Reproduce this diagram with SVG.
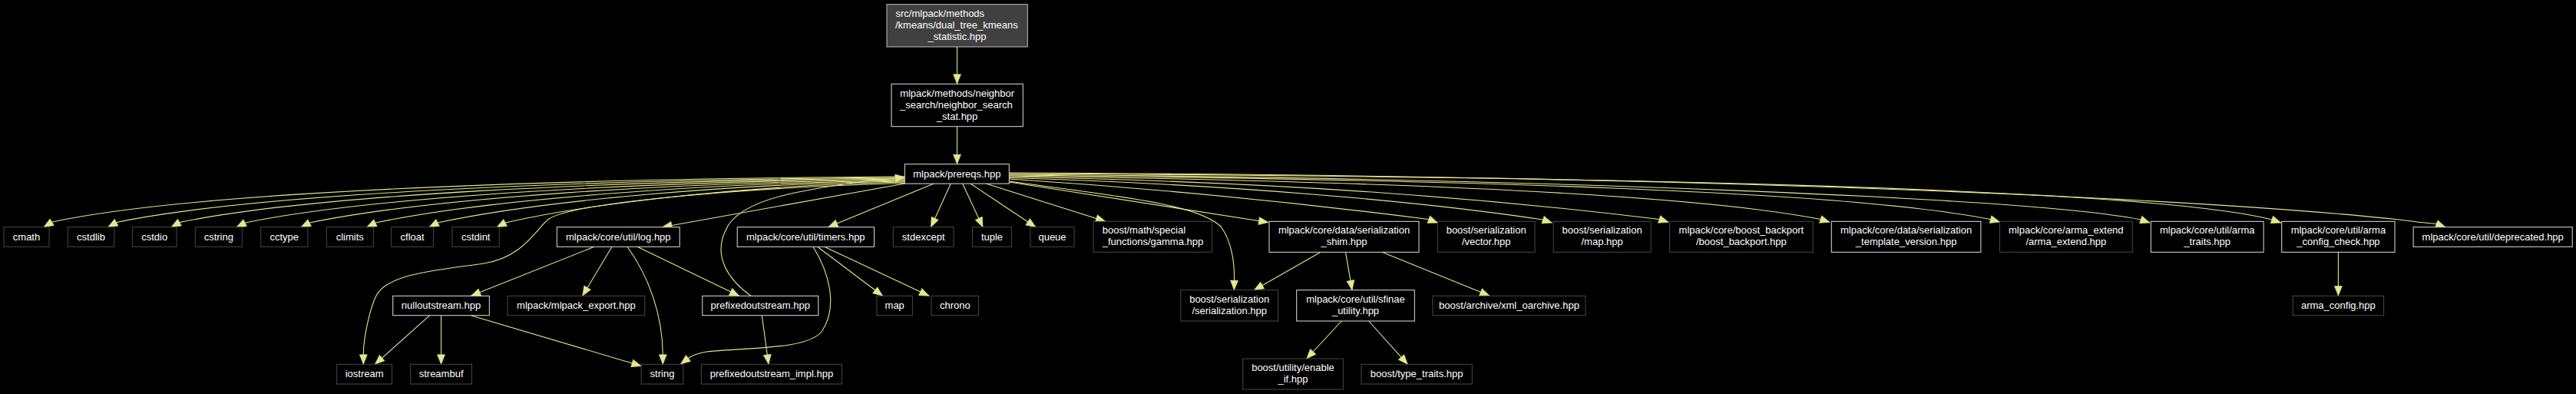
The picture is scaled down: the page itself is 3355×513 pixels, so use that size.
<svg xmlns="http://www.w3.org/2000/svg" width="3355" height="513" viewBox="0 0 3355 513">
<defs>
<style>
text{font-family:"Liberation Sans",Arial,sans-serif;font-size:13px;fill:#ffffff;text-anchor:middle}
.s{text-anchor:start}
.leaf rect{fill:#000000;stroke:#484848;stroke-width:1}
.lnk rect{fill:#000000;stroke:#e0e0e0;stroke-width:1}
.root rect{fill:#404040;stroke:#bfbfbf;stroke-width:1}
#edges path{fill:none;stroke:#e6e68c;stroke-width:1.1;marker-end:url(#ah)}
</style>
<marker id="ah" markerUnits="userSpaceOnUse" markerWidth="13" markerHeight="11" refX="12.5" refY="5" orient="auto" overflow="visible">
<path d="M0,0 L12.5,5 L0,10 Z" fill="#e6e68c" stroke="#e6e68c" stroke-width="0.6"/>
</marker>
</defs>
<rect x="0" y="0" width="3355" height="513" fill="#000000"/>

<g id="edges">
<path d="M1246.5,61 L1246.5,109.3"/>
<path d="M1246.5,164.7 L1246.5,213.7"/>
<path d="M1178,230 C701,233 250,250 68,289 L57,295.7"/>
<path d="M1178,231 C750,234 331,252 152,289.5 L140.6,295.7"/>
<path d="M1178,232 C796,235 408,253.6 234,289.5 L223,295.7"/>
<path d="M1178,233 C841,236 486,255.7 319.5,290 L308,295.7"/>
<path d="M1178,234 C884,237 562,257.3 403.5,290 L392,295.7"/>
<path d="M1178,235 C925,238 637,259 489.5,290 L477.7,295.7"/>
<path d="M1178,236 C962,239 707,260.4 570,290 L559,295.7"/>
<path d="M1178,237 C1000,240 780,262 658,290 L647,295.7"/>
<path d="M1178,238.5 C950,245 745,265 715,285 C700,295 683,335 630,343 C580,350.5 505,355 490,385 C482,401 473,440 473.3,463 L473.3,474.3"/>
<path d="M1178.5,239 L862.5,295.7"/>
<path d="M978,385.3 C950,365 928,335 945,300 C955,275 990,260 1040,250 C1090,240 1130,235 1166.5,232 L1178.5,230.5"/>
<path d="M1216.4,239 L1078.6,295.7"/>
<path d="M1238.3,239 L1212.5,295.7"/>
<path d="M1253.6,239 L1280,295.7"/>
<path d="M1263.8,239 L1349,295.7"/>
<path d="M1284,239 L1439.8,288.3"/>
<path d="M1314.3,237 L1652,289.5"/>
<path d="M1314.3,236 C1450,255 1560,265 1590,295 C1605,315 1608,345 1607.5,366 L1607.3,377.7"/>
<path d="M1314.3,233 C1500,245 1700,265 1860,285.5 L1872.5,290"/>
<path d="M1314.3,231.5 C1600,240 1850,262 2009,286 L2021.4,290"/>
<path d="M1314.3,230 C1700,238 1950,260 2161,285.5 L2173,289.3"/>
<path d="M1314.3,229 C1800,236 2200,252 2371,285.5 L2383,289.3"/>
<path d="M1314.3,228 C1900,234 2400,248 2592,285.5 L2604.5,289"/>
<path d="M1314.3,227 C2000,232 2650,258 2788,286 L2800,290"/>
<path d="M1314.3,226 C2100,230 2800,245 2959,286 L2970.7,290"/>
<path d="M1314.3,225 C2300,229 2900,262 3125,286 C3145,289 3160,290 3173.5,291.5 L3185,295.7"/>
<path d="M774,321.3 L613.3,385.3"/>
<path d="M797,321.3 L758.7,385.3"/>
<path d="M817,321.3 C845,360 863,410 863.3,462 L863.3,474.3"/>
<path d="M830,321.3 L962.8,385.3"/>
<path d="M1064.7,321.3 L1149.6,385.3"/>
<path d="M1073.7,321.3 L1210,385.3"/>
<path d="M1059,321.3 C1080,355 1092,400 1070,432 C1050,455 980,452 920,458 C908,460 903,462 897,466 L886.5,474"/>
<path d="M559.7,410.7 L488.3,474.3"/>
<path d="M574.5,410.7 L574.5,474.3"/>
<path d="M613.3,410.7 L835.2,476.5"/>
<path d="M992.3,410.7 L1001,474.3"/>
<path d="M1720,328.3 L1633.3,377.7"/>
<path d="M1752.5,328.3 L1761,377.7"/>
<path d="M1800,328.3 L1940,385"/>
<path d="M1747.3,418 L1701.7,467"/>
<path d="M1782.7,418 L1833.3,474.3"/>
<path d="M3045.4,328.3 L3045.4,385"/>
</g>

<g id="n_root" class="root"><rect x="1155" y="5.7" width="183.3" height="55.3"/>
<text class="s" x="1166.5" y="21.7">src/mlpack/methods</text><text class="s" x="1166" y="36.7">/kmeans/dual_tree_kmeans</text><text x="1246.5" y="51.5">_statistic.hpp</text></g>
<g id="n_nss" class="lnk"><rect x="1161" y="109.3" width="171.3" height="55.4"/>
<text x="1246.6" y="125.5">mlpack/methods/neighbor</text><text class="s" x="1172" y="140.5">_search/neighbor_search</text><text x="1246.6" y="155.5">_stat.hpp</text></g>
<g id="n_prereqs" class="lnk"><rect x="1178.3" y="213.7" width="136" height="25.4"/><text x="1246.3" y="231">mlpack/prereqs.hpp</text></g>

<g id="n_cmath" class="leaf"><rect x="5" y="295.7" width="59" height="25.6"/><text x="34.5" y="312.7">cmath</text></g>
<g id="n_cstdlib" class="leaf"><rect x="88.3" y="295.7" width="60.4" height="25.6"/><text x="118.5" y="312.7">cstdlib</text></g>
<g id="n_cstdio" class="leaf"><rect x="172.3" y="295.7" width="57.7" height="25.6"/><text x="201.2" y="312.7">cstdio</text></g>
<g id="n_cstring" class="leaf"><rect x="254.3" y="295.7" width="61" height="25.6"/><text x="284.8" y="312.7">cstring</text></g>
<g id="n_cctype" class="leaf"><rect x="339.7" y="295.7" width="61.2" height="25.6"/><text x="370.3" y="312.7">cctype</text></g>
<g id="n_climits" class="leaf"><rect x="425.3" y="295.7" width="61" height="25.6"/><text x="455.8" y="312.7">climits</text></g>
<g id="n_cfloat" class="leaf"><rect x="509.7" y="295.7" width="54.8" height="25.6"/><text x="537.1" y="312.7">cfloat</text></g>
<g id="n_cstdint" class="leaf"><rect x="589" y="295.7" width="61.3" height="25.6"/><text x="619.7" y="312.7">cstdint</text></g>
<g id="n_log" class="lnk"><rect x="725.3" y="295.7" width="159.9" height="25.6"/><text x="805.3" y="312.7">mlpack/core/util/log.hpp</text></g>
<g id="n_timers" class="lnk"><rect x="960.2" y="295.7" width="178.3" height="25.6"/><text x="1049.3" y="312.7">mlpack/core/util/timers.hpp</text></g>
<g id="n_stdexcept" class="leaf"><rect x="1163.3" y="295.7" width="78.7" height="25.6"/><text x="1202.7" y="312.7">stdexcept</text></g>
<g id="n_tuple" class="leaf"><rect x="1266.5" y="295.7" width="50.9" height="25.6"/><text x="1292" y="312.7">tuple</text></g>
<g id="n_queue" class="leaf"><rect x="1342" y="295.7" width="57.1" height="25.6"/><text x="1370.5" y="312.7">queue</text></g>
<g id="n_gamma" class="leaf"><rect x="1424" y="288.3" width="154.6" height="40"/><text class="s" x="1435.7" y="304.3">boost/math/special</text><text class="s" x="1435.7" y="319.3">_functions/gamma.hpp</text></g>
<g id="n_shim" class="lnk"><rect x="1653" y="288.3" width="195" height="40"/><text x="1750.5" y="304.3">mlpack/core/data/serialization</text><text x="1750.5" y="319.3">_shim.hpp</text></g>
<g id="n_vector" class="leaf"><rect x="1872.4" y="288.3" width="126.6" height="40"/><text x="1935.7" y="304.3">boost/serialization</text><text x="1935.7" y="319.3">/vector.hpp</text></g>
<g id="n_bsmap" class="leaf"><rect x="2023.2" y="288.3" width="126.8" height="40"/><text x="2086.6" y="304.3">boost/serialization</text><text x="2086.6" y="319.3">/map.hpp</text></g>
<g id="n_backport" class="leaf"><rect x="2174.6" y="288.3" width="186.6" height="40"/><text x="2267.9" y="304.3">mlpack/core/boost_backport</text><text x="2267.9" y="319.3">/boost_backport.hpp</text></g>
<g id="n_tplver" class="lnk"><rect x="2385.3" y="288.3" width="194.6" height="40"/><text x="2482.6" y="304.3">mlpack/core/data/serialization</text><text x="2482.6" y="319.3">_template_version.hpp</text></g>
<g id="n_armaext" class="leaf"><rect x="2604.4" y="288.3" width="172.8" height="40"/><text x="2690.8" y="304.3">mlpack/core/arma_extend</text><text x="2690.8" y="319.3">/arma_extend.hpp</text></g>
<g id="n_armatraits" class="lnk"><rect x="2801.3" y="288.3" width="146.8" height="40"/><text x="2874.7" y="304.3">mlpack/core/util/arma</text><text x="2874.7" y="319.3">_traits.hpp</text></g>
<g id="n_armacc" class="lnk"><rect x="2971.7" y="288.3" width="147.3" height="40"/><text x="3045.4" y="304.3">mlpack/core/util/arma</text><text x="3045.4" y="319.3">_config_check.hpp</text></g>
<g id="n_deprecated" class="lnk"><rect x="3143.1" y="295.7" width="207.1" height="25.6"/><text x="3246.7" y="312.7">mlpack/core/util/deprecated.hpp</text></g>

<g id="n_nullout" class="lnk"><rect x="511.7" y="385.3" width="125.6" height="25.4"/><text x="574.5" y="402.3">nulloutstream.hpp</text></g>
<g id="n_export" class="leaf"><rect x="661" y="385.3" width="178.8" height="25.4"/><text x="750.4" y="402.3">mlpack/mlpack_export.hpp</text></g>
<g id="n_prefixed" class="lnk"><rect x="914.8" y="385.3" width="151" height="25.4"/><text x="990.3" y="402.3">prefixedoutstream.hpp</text></g>
<g id="n_map" class="leaf"><rect x="1142" y="385.3" width="46.4" height="25.4"/><text x="1165.2" y="402.3">map</text></g>
<g id="n_chrono" class="leaf"><rect x="1213" y="385.3" width="61.6" height="25.4"/><text x="1243.8" y="402.3">chrono</text></g>
<g id="n_bsser" class="leaf"><rect x="1537.7" y="377.7" width="127" height="40.3"/><text x="1601.2" y="394">boost/serialization</text><text x="1601.2" y="409">/serialization.hpp</text></g>
<g id="n_sfinae" class="lnk"><rect x="1688.7" y="377.7" width="153.6" height="40.3"/><text x="1765.5" y="394">mlpack/core/util/sfinae</text><text x="1765.5" y="409">_utility.hpp</text></g>
<g id="n_xml" class="leaf"><rect x="1866" y="385.3" width="199" height="25.4"/><text x="1965.5" y="402.3">boost/archive/xml_oarchive.hpp</text></g>
<g id="n_armaconfig" class="leaf"><rect x="2986.2" y="385.3" width="118.4" height="25.4"/><text x="3045.4" y="402.3">arma_config.hpp</text></g>

<g id="n_iostream" class="leaf"><rect x="438.7" y="474.3" width="71.8" height="25.7"/><text x="474.6" y="491.3">iostream</text></g>
<g id="n_streambuf" class="leaf"><rect x="534.7" y="474.3" width="79.8" height="25.7"/><text x="574.6" y="491.3">streambuf</text></g>
<g id="n_string" class="leaf"><rect x="835.2" y="474.3" width="54.6" height="25.7"/><text x="862.5" y="491.3">string</text></g>
<g id="n_impl" class="leaf"><rect x="913.3" y="474.3" width="183.1" height="25.7"/><text x="1004.9" y="491.3">prefixedoutstream_impl.hpp</text></g>
<g id="n_enableif" class="leaf"><rect x="1618.7" y="467" width="130.6" height="40"/><text x="1684" y="483">boost/utility/enable</text><text x="1684" y="498">_if.hpp</text></g>
<g id="n_typetraits" class="leaf"><rect x="1773" y="474.3" width="144.3" height="25.7"/><text x="1845.2" y="491.3">boost/type_traits.hpp</text></g>
</svg>
